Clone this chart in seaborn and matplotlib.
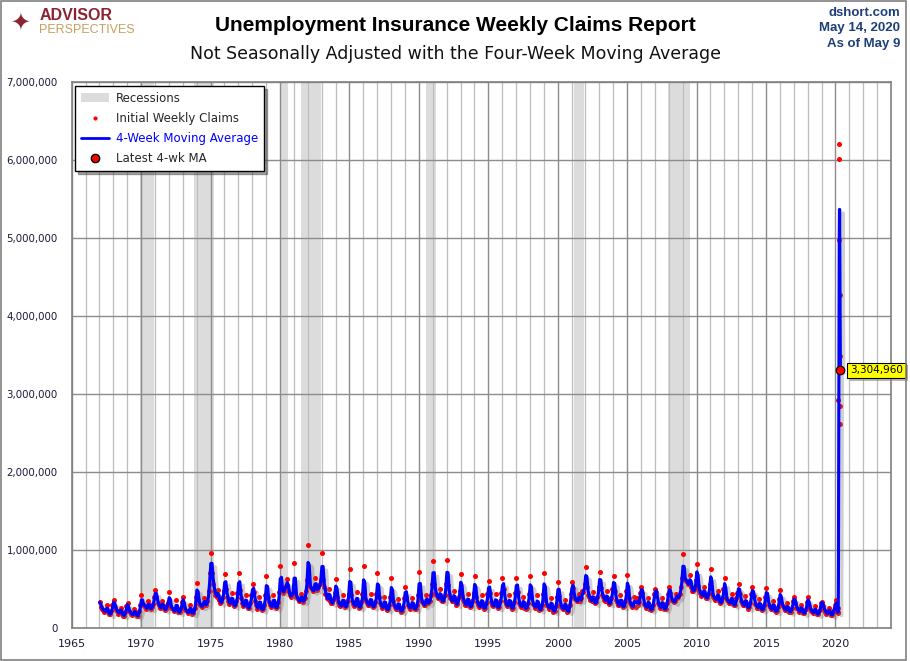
import numpy as np
import pandas as pd
import matplotlib.pyplot as plt
import matplotlib.patheffects as pe
import matplotlib.ticker as mticker
from matplotlib.patches import Patch, Rectangle
from matplotlib.lines import Line2D
import seaborn as sns

# initial weekly claims, NSA, thousands -- one value per month (Jan..Dec)
claims_1960s = [
    330, 270, 240, 235, 205, 215, 290, 210, 180, 175, 220, 300,  # 1967
    360, 275, 235, 215, 185, 200, 260, 185, 160, 160, 200, 280,  # 1968
    320, 220, 200, 185, 165, 180, 240, 175, 155, 160, 215, 300,  # 1969
]
claims_1970s = [
    420, 300, 290, 275, 250, 260, 350, 255, 245, 265, 310, 400,  # 1970
    487, 400, 320, 290, 255, 265, 345, 255, 235, 240, 290, 320,  # 1971
    457, 280, 260, 240, 215, 225, 354, 225, 200, 205, 255, 330,  # 1972
    393, 260, 230, 215, 195, 205, 300, 200, 185, 195, 260, 400,  # 1973
    572, 360, 310, 290, 270, 290, 380, 300, 300, 340, 470, 700,  # 1974
    956, 700, 560, 480, 420, 400, 487, 360, 320, 330, 380, 480,  # 1975
    687, 500, 400, 350, 310, 320, 444, 310, 280, 290, 340, 450,  # 1976
    700, 486, 380, 320, 280, 290, 423, 280, 252, 260, 320, 420,  # 1977
    559, 457, 340, 290, 250, 260, 401, 260, 230, 240, 300, 420,  # 1978
    666, 395, 330, 300, 270, 280, 423, 290, 252, 270, 330, 460,  # 1979
]
claims_1980s = [
    794, 505, 450, 480, 520, 540, 623, 480, 420, 400, 430, 450,  # 1980
    828, 450, 400, 370, 340, 350, 440, 350, 337, 380, 480, 620,  # 1981
    1059, 560, 520, 500, 470, 490, 636, 500, 490, 520, 560, 620,  # 1982
    956, 620, 520, 440, 380, 370, 495, 350, 320, 320, 370, 450,  # 1983
    623, 400, 330, 300, 280, 290, 420, 290, 270, 280, 340, 440,  # 1984
    751, 420, 340, 310, 280, 290, 465, 290, 260, 270, 330, 440,  # 1985
    794, 376, 350, 320, 290, 300, 430, 290, 270, 280, 330, 430,  # 1986
    700, 400, 320, 290, 260, 270, 400, 260, 230, 240, 290, 400,  # 1987
    636, 340, 290, 270, 240, 250, 370, 240, 210, 220, 270, 380,  # 1988
    529, 400, 300, 270, 250, 270, 380, 260, 240, 250, 300, 420,  # 1989
]
claims_1990s = [
    713, 430, 340, 320, 290, 300, 420, 320, 320, 350, 420, 560,  # 1990
    854, 564, 450, 420, 380, 380, 500, 360, 340, 350, 420, 560,  # 1991
    867, 550, 420, 380, 340, 350, 480, 330, 300, 310, 380, 480,  # 1992
    692, 410, 360, 330, 290, 300, 440, 290, 270, 280, 340, 450,  # 1993
    666, 395, 330, 300, 270, 280, 420, 270, 250, 260, 320, 430,  # 1994
    598, 450, 330, 300, 280, 290, 430, 280, 260, 270, 340, 450,  # 1995
    636, 500, 340, 310, 280, 290, 420, 270, 250, 260, 330, 450,  # 1996
    636, 466, 320, 300, 270, 280, 400, 260, 250, 260, 320, 440,  # 1997
    666, 395, 310, 290, 260, 270, 420, 250, 230, 240, 300, 430,  # 1998
    700, 360, 300, 280, 250, 260, 380, 240, 210, 220, 280, 400,  # 1999
]
claims_2000s = [
    585, 405, 290, 270, 240, 250, 360, 240, 210, 220, 290, 430,  # 2000
    585, 510, 380, 370, 340, 350, 440, 340, 380, 480, 460, 560,  # 2001
    786, 530, 420, 400, 360, 340, 460, 330, 316, 330, 400, 530,  # 2002
    713, 517, 420, 400, 360, 350, 470, 330, 310, 320, 380, 500,  # 2003
    666, 478, 360, 330, 290, 290, 420, 290, 270, 280, 350, 470,  # 2004
    679, 380, 320, 300, 270, 280, 400, 270, 380, 300, 330, 450,  # 2005
    529, 445, 310, 290, 260, 270, 390, 250, 230, 240, 300, 430,  # 2006
    495, 460, 320, 300, 260, 270, 380, 260, 240, 250, 320, 440,  # 2007
    529, 445, 360, 350, 330, 340, 440, 380, 400, 430, 520, 640,  # 2008
    944, 630, 620, 600, 560, 560, 679, 520, 480, 470, 500, 620,  # 2009
]
claims_2010s = [
    820, 540, 470, 450, 410, 420, 530, 410, 380, 390, 440, 560,  # 2010
    751, 437, 400, 390, 360, 370, 480, 350, 320, 330, 380, 500,  # 2011
    636, 380, 360, 340, 320, 320, 440, 310, 290, 300, 380, 450,  # 2012
    559, 430, 340, 320, 290, 290, 410, 280, 250, 270, 320, 440,  # 2013
    521, 410, 310, 290, 260, 260, 370, 250, 230, 240, 290, 400,  # 2014
    508, 380, 290, 270, 240, 240, 350, 230, 210, 220, 270, 370,  # 2015
    487, 315, 280, 260, 230, 230, 320, 220, 205, 210, 260, 350,  # 2016
    393, 325, 260, 240, 210, 215, 300, 205, 190, 190, 240, 330,  # 2017
    393, 280, 240, 220, 195, 200, 280, 190, 178, 180, 230, 320,  # 2018
    337, 277, 230, 210, 185, 190, 260, 180, 168, 170, 220, 300,  # 2019
]
# 2020 is weekly (week ending Jan 4 .. May 9), actual counts
claims_2020 = [315000, 356000, 283000, 246000, 253000, 228000, 203000, 203000,
               197000, 201000, 251000, 2920000, 6015000, 6211000, 4971000,
               4267395, 3489150, 2848879, 2614416]

rec_start = [1969.92, 1973.83, 1980.0, 1981.5, 1990.5, 2001.17, 2007.92]
rec_end = [1970.92, 1975.25, 1980.58, 1982.92, 1991.25, 2001.92, 2009.5]

year_ticks = list(range(1965, 2025, 5))
claims_ticks = list(range(0, 7000001, 1000000))

# ---- build the series
monthly = np.array(claims_1960s + claims_1970s + claims_1980s + claims_1990s
                   + claims_2000s + claims_2010s) * 1000.0
n_month = len(monthly)
x_month = 1967 + np.arange(n_month) / 12 + 0.02

wk_dates = pd.date_range("2020-01-04", periods=len(claims_2020), freq="7D")
x_week = wk_dates.year + (wk_dates.dayofyear - 1) / 366

df = pd.DataFrame({
    "date": np.concatenate([x_month, x_week]),
    "claims": np.concatenate([monthly, claims_2020]),
})
ma_month = df["claims"].rolling(2, min_periods=1).mean()
ma_week = df["claims"].rolling(4, min_periods=1).mean()
df["ma"] = np.where(np.arange(len(df)) < n_month, ma_month, ma_week)

sns.set_theme(style="white")
plt.rcParams["font.family"] = ["DejaVu Sans"]
narrow = ["Liberation Sans", "DejaVu Sans"]

fig = plt.figure(figsize=(9.1, 6.61), dpi=100)
ax = fig.add_axes([71.7 / 910, 33 / 661, (891 - 71.7) / 910, (628 - 82) / 661])

for s, e in zip(rec_start, rec_end):
    ax.axvspan(s, e, color="#dcdcdc", lw=0, zorder=0)

sns.scatterplot(data=df, x="date", y="claims", ax=ax, color="#ff0000", s=13,
                linewidth=0, zorder=3, legend=False)
sns.lineplot(data=df, x="date", y="ma", ax=ax, color="#0000ff", lw=2.3,
             zorder=4, legend=False, sort=False,
             path_effects=[pe.SimpleLineShadow(offset=(2.5, -2.5), shadow_color="#777777", alpha=0.35),
                           pe.Normal()])

last_x = df["date"].iloc[-1]
last_ma = df["ma"].iloc[-1]
ax.scatter([last_x], [last_ma], s=38, color="#ff0000", edgecolor="black", lw=0.8, zorder=6)
lab = ax.annotate(f"{last_ma:,.0f}", (last_x, last_ma), xytext=(7, 0), textcoords="offset points",
                  ha="left", va="center", fontsize=7.5, zorder=7, color="black",
                  bbox=dict(boxstyle="square,pad=0.25", fc="#ffff00", ec="black", lw=0.8),
                  annotation_clip=False)
lab.get_bbox_patch().set_path_effects([pe.withSimplePatchShadow(offset=(2, -2), shadow_rgbFace="#888888", alpha=0.6)])

ax.set_xlim(1965, 2024)
ax.set_ylim(0, 7000000)
ax.set_xticks(year_ticks)
ax.set_xticks(range(1965, 2025), minor=True)
ax.set_yticks(claims_ticks)
ax.yaxis.set_major_formatter(mticker.FuncFormatter(lambda v, p: f"{v:,.0f}"))
ax.grid(which="major", axis="both", color="#8c8c8c", lw=1.0)
ax.grid(which="minor", axis="x", color="#bdbdbd", lw=0.9)
ax.set_axisbelow(True)
ax.tick_params(which="both", length=0, labelsize=8, colors="#1a1a3a")
ax.tick_params(axis="y", labelsize=7.4, pad=10)
ax.tick_params(axis="x", pad=8)
ax.set_xlabel("")
ax.set_ylabel("")
for sp in ax.spines.values():
    sp.set_color("#808080")
    sp.set_linewidth(1.2)

handles = [
    Patch(facecolor="#dcdcdc", edgecolor="none"),
    Line2D([], [], ls="none", marker="o", markersize=2, color="#ff0000"),
    Line2D([], [], color="#0000ff", lw=2),
    Line2D([], [], ls="none", marker="o", markersize=6, mfc="#ff0000", mec="black"),
]
labels = ["Recessions", "Initial Weekly Claims", "4-Week Moving Average", "Latest 4-wk MA"]
leg = ax.legend(handles, labels, loc="upper left", bbox_to_anchor=(0.004, 0.993),
                borderaxespad=0, frameon=True, fancybox=False, shadow=True, fontsize=8.5,
                handlelength=2.4, handletextpad=0.6, labelspacing=0.6, borderpad=0.5)
leg.get_frame().set_edgecolor("black")
leg.get_frame().set_linewidth(1.0)
leg.get_texts()[2].set_color("#0000ff")

fig.text(0.5, 0.962, "Unemployment Insurance Weekly Claims Report", ha="center", va="center",
         fontsize=15, fontweight="bold", color="black", family=narrow)
fig.text(0.5, 0.918, "Not Seasonally Adjusted with the Four-Week Moving Average", ha="center",
         va="center", fontsize=12.5, color="#111111")

for i, t in enumerate(["dshort.com", "May 14, 2020", "As of May 9"]):
    fig.text(0.989, 0.981 - i * 0.024, t, ha="right", va="center", fontsize=9.5,
             fontweight="bold", color="#1f3f7a", family=narrow)

fig.text(0.043, 0.977, "ADVISOR", ha="left", va="center", fontsize=11.5, fontweight="bold",
         color="#8b2333", family=narrow)
fig.text(0.043, 0.954, "PERSPECTIVES", ha="left", va="center", fontsize=9, color="#c4a060",
         family=narrow)
fig.text(0.022, 0.966, "\u2726", ha="center", va="center", fontsize=17, color="#8b2333")

fig.patches.append(Rectangle((0.001, 0.002), 0.995, 0.996, transform=fig.transFigure,
                             fill=False, ec="#808080", lw=1.2))

fig.savefig("out.png", dpi=100)
